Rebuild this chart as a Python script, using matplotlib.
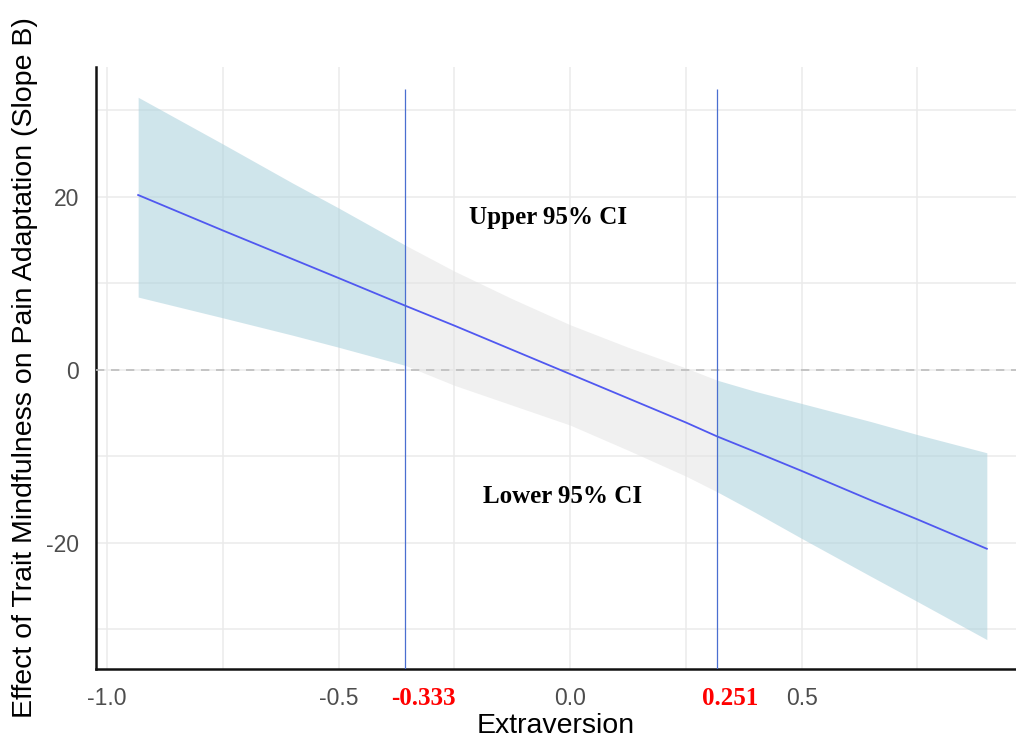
import numpy as np
import matplotlib.pyplot as plt
from matplotlib.ticker import MultipleLocator

plt.rcParams["axes.unicode_minus"] = False

# moderator values and simple slope estimates
extraversion = np.array([-0.933, -0.75, -0.6, -0.5, -0.356, -0.25, -0.125, 0.0,
                         0.125, 0.25, 0.317, 0.4, 0.5, 0.65, 0.75, 0.90])
slope = np.array([20.2, 16.1, 12.8, 10.6, 7.4, 5.1, 2.3, -0.5,
                  -3.3, -6.1, -7.7, -9.5, -11.7, -15.1, -17.3, -20.7])
ci_upper = np.array([31.5, 26.1, 21.6, 18.7, 14.4, 11.4, 8.2, 5.2,
                     2.6, 0.2, -1.2, -2.5, -3.9, -6.0, -7.5, -9.6])
ci_lower = np.array([8.4, 6.0, 4.0, 2.6, 0.5, -1.8, -4.1, -6.4,
                     -9.3, -12.3, -14.1, -16.5, -19.5, -23.9, -26.8, -31.2])

# Johnson-Neyman boundaries (drawn position, printed label)
jn_pos = [-0.356, 0.317]
jn_labels = ["-0.333", "0.251"]

xticks = [-1.0, -0.5, 0.0, 0.5]
yticks = [-20, 0, 20]

fig = plt.figure(figsize=(10.16, 7.42), dpi=100)
ax = fig.add_axes([0.0945, 0.0984, 0.9055, 0.8113])

band_blue = "#a9d0dc"
ax.fill_between(extraversion, ci_lower, ci_upper, where=(extraversion <= jn_pos[0]),
                color=band_blue, alpha=0.55, linewidth=0, zorder=2)
ax.fill_between(extraversion, ci_lower, ci_upper, where=(extraversion >= jn_pos[1]),
                color=band_blue, alpha=0.55, linewidth=0, zorder=2)
ax.fill_between(extraversion, ci_lower, ci_upper,
                where=(extraversion >= jn_pos[0]) & (extraversion <= jn_pos[1]),
                color="#e4e4e4", alpha=0.55, linewidth=0, zorder=2)

ax.axhline(0, color="#bdbdbd", linestyle=(0, (5, 4)), linewidth=1.2, zorder=3)
ax.plot(extraversion, slope, color="#5058f0", linewidth=1.3, zorder=4)
ax.vlines(jn_pos, -34.6, 32.4, color="#4a6fd0", linewidth=0.9, zorder=5)

ax.text(-0.048, 17.6, "Upper 95% CI", ha="center", va="center", fontsize=18,
        fontweight="bold", family="Liberation Serif", zorder=6)
ax.text(-0.017, -14.6, "Lower 95% CI", ha="center", va="center", fontsize=18,
        fontweight="bold", family="Liberation Serif", zorder=6)
for pos, lab in zip([-0.316, 0.346], jn_labels):
    ax.text(pos, -38.0, lab, ha="center", va="center", fontsize=18, color="#ff0000",
            fontweight="bold", family="Liberation Serif", clip_on=False)

ax.set_xlim(-1.024, 0.963)
ax.set_ylim(-34.6, 35.0)
ax.set_xticks(xticks)
ax.set_xticklabels([f"{t:.1f}" for t in xticks])
ax.set_yticks(yticks)
ax.xaxis.set_minor_locator(MultipleLocator(0.25))
ax.yaxis.set_minor_locator(MultipleLocator(10))
ax.grid(True, which="both", color="#ebebeb", linewidth=1.1, zorder=0)
ax.set_axisbelow(True)
ax.tick_params(which="both", length=0, labelsize=16.5, labelcolor="#4d4d4d",
               labelfontfamily="Liberation Sans")
ax.tick_params(axis="x", pad=13)
ax.tick_params(axis="y", pad=12)

for s in ["top", "right"]:
    ax.spines[s].set_visible(False)
for s in ["left", "bottom"]:
    ax.spines[s].set_linewidth(1.8)
    ax.spines[s].set_color("#111111")

ax.set_xlabel("Extraversion", fontsize=20.5, family="Liberation Sans", labelpad=2)
ax.set_ylabel("Effect of Trait Mindfulness on Pain Adaptation (Slope B)", fontsize=20.5,
              family="Liberation Sans", labelpad=6)

plt.savefig("out.png", dpi=100)
plt.close()
